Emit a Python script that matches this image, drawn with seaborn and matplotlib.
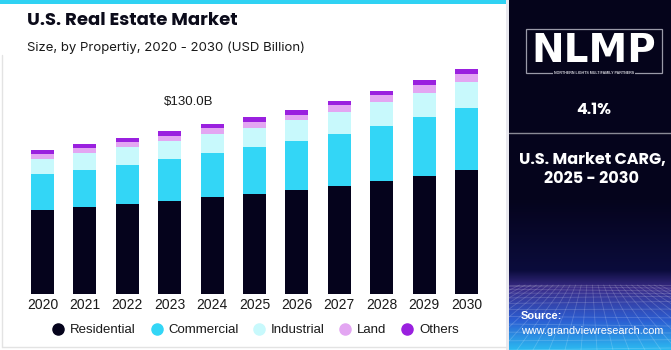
import matplotlib
matplotlib.use("Agg")
import matplotlib.pyplot as plt
import matplotlib.patches as mpatches
from matplotlib.lines import Line2D
import numpy as np
import pandas as pd
import seaborn as sns

# data (USD billion)
years = ['2020', '2021', '2022', '2023', '2024', '2025', '2026', '2027', '2028', '2029', '2030']
residential = [67.1, 69.3, 71.7, 74.3, 77.3, 79.9, 83.1, 86.5, 90.0, 94.3, 99.1]
commercial = [28.5, 29.8, 31.4, 33.6, 35.4, 37.6, 39.2, 41.5, 44.4, 46.9, 49.8]
industrial = [12.2, 13.3, 14.4, 14.6, 15.2, 15.4, 16.8, 17.6, 18.7, 19.7, 20.5]
land = [4.2, 4.2, 4.2, 4.0, 4.8, 4.6, 4.0, 5.4, 5.6, 6.2, 6.6]
others = [3.2, 3.2, 3.2, 3.5, 3.4, 4.0, 4.0, 3.4, 3.7, 4.0, 4.0]
segments = ['Residential', 'Commercial', 'Industrial', 'Land', 'Others']
colors = ['#05031c', '#33d6f6', '#c8f9fc', '#e3a6f2', '#9a20df']
label_year = '2023'
label_text = '$130.0B'

df = pd.DataFrame({'year': years, 'Residential': residential, 'Commercial': commercial,
                   'Industrial': industrial, 'Land': land, 'Others': others})

sns.set_style("white")
plt.rcParams['font.family'] = ['Liberation Sans', 'DejaVu Sans']

fig = plt.figure(figsize=(6.71, 3.5), dpi=100)
fig.patch.set_facecolor('white')

# chart axes
ax = fig.add_axes([21.3 / 671, 56 / 350, 466.4 / 671, 234 / 350])
bottom = np.zeros(len(years))
for seg, c in zip(segments, colors):
    sns.barplot(x='year', y=seg, data=df, color=c, bottom=bottom, width=0.54,
                linewidth=0, ax=ax, saturation=1)
    bottom = bottom + df[seg].values
ax.set_ylim(0, 187)
ax.set_xlim(-0.5, len(years) - 0.5)
ax.set_xlabel('')
ax.set_ylabel('')
ax.set_yticks([])
sns.despine(ax=ax, left=True, bottom=True)
ax.tick_params(axis='x', length=0, pad=3, labelsize=10, labelcolor='#1a1a1a')
ax.patch.set_alpha(0)

i = years.index(label_year)
ax.annotate(label_text, xy=(i, bottom[i]), xytext=(14, 17), textcoords='offset points',
            ha='center', va='bottom', fontsize=9.5, color='#1a1a1a')

# titles
fig.text(27 / 671, 1 - 21 / 350, 'U.S. Real Estate Market', fontsize=13, fontweight='bold',
         family=['Poppins', 'Inter', 'DejaVu Sans'], color='#0b0b1a', va='center')
fig.text(27 / 671, 1 - 48 / 350, 'Size, by Propertiy, 2020 - 2030 (USD Billion)', fontsize=9.5,
         family=['Inter', 'DejaVu Sans'], color='#1a1a1a', va='center')

# legend
handles = [Line2D([], [], marker='o', ls='', markersize=8, markerfacecolor=c,
                  markeredgecolor=c) for c in colors]
fig.legend(handles, segments, loc='center', bbox_to_anchor=(256 / 671, 20 / 350), ncol=5,
           frameon=False, fontsize=9.5, handlelength=0.8, handletextpad=0.5,
           columnspacing=1.15, labelcolor='#1a1a1a')

# cyan top strip and border of the left card
fig.add_artist(mpatches.Rectangle((0, 1 - 4 / 350), 509 / 671, 4 / 350, color='#2fd2f3',
                                  transform=fig.transFigure, lw=0))
fig.add_artist(Line2D([2 / 671, 2 / 671], [3 / 350, 1 - 55 / 350], color='#e3e3e3', lw=1,
                      transform=fig.transFigure))
fig.add_artist(Line2D([2 / 671, 506 / 671], [3 / 350, 3 / 350], color='#e3e3e3', lw=1,
                      transform=fig.transFigure))

# right panel
px = fig.add_axes([509 / 671, 0, 162 / 671, 1])
px.set_xlim(0, 162)
px.set_ylim(350, 0)
px.axis('off')
stops_y = [0, 200, 270, 288, 320, 350]
stops_c = ['#05041b', '#05041d', '#0b0c3c', '#3b2d8a', '#2b5ed2', '#2bbcf2']
rgb = np.array([matplotlib.colors.to_rgb(c) for c in stops_c])
yy = np.arange(350)
grad = np.stack([np.interp(yy, stops_y, rgb[:, k]) for k in range(3)], axis=1)
px.imshow(grad[:, None, :], aspect='auto', extent=(0, 162, 350, 0))
# perspective grid at the bottom
for k in range(12):
    yline = 285 + 65 * (k / 11) ** 1.6
    px.plot([0, 162], [yline, yline + 2 * np.sin(k)], color='white', alpha=0.18, lw=0.6)
for xv in np.linspace(-120, 280, 26):
    px.plot([81 + (xv - 81) * 0.35, xv], [285, 350], color='white', alpha=0.18, lw=0.6)

# logo
px.add_patch(mpatches.Rectangle((17, 29), 136, 44, fill=False, ec='#9a9aa8', lw=0.9))
px.text(85, 51, 'NLMP', color='white', fontsize=28, fontweight='heavy', ha='center',
        va='center', family=['DejaVu Sans'])
px.text(85, 72.5, 'NORTHERN LIGHTS MULTIFAMILY PARTNERS', color='#cfcfd8', fontsize=2.6,
        ha='center', va='center', fontweight='bold',
        bbox=dict(facecolor='#05041b', edgecolor='none', pad=1))

px.text(85, 110, '4.1%', color='white', fontsize=11.5, fontweight='bold', ha='center',
        va='center', family=['Poppins', 'Inter', 'DejaVu Sans'])
px.plot([0, 162], [132.5, 132.5], color='#8a8a96', lw=1)
px.text(83, 160, 'U.S. Market CARG,', color='white', fontsize=11.5, fontweight='bold',
        ha='center', va='center', family=['Poppins', 'Inter', 'DejaVu Sans'])
px.text(83, 179, '2025 - 2030', color='white', fontsize=11.5, fontweight='bold',
        ha='center', va='center', family=['Poppins', 'Inter', 'DejaVu Sans'])
px.text(12, 316, 'Source:', color='white', fontsize=8, fontweight='bold', va='center')
px.text(12, 331, 'www.grandviewresearch.com', color='white', fontsize=7.8, va='center')

# thin separator between card and panel
fig.add_artist(mpatches.Rectangle((506 / 671, 0), 3 / 671, 1, color='#e8e8ee',
                                  transform=fig.transFigure, lw=0))

fig.savefig('out.png', dpi=100)
